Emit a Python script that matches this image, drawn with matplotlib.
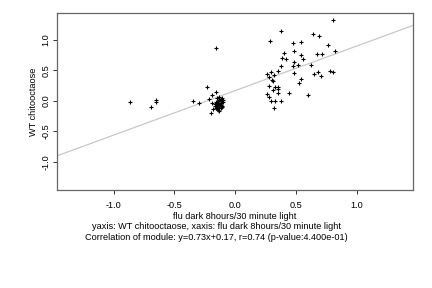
import matplotlib

matplotlib.use("Agg")
import matplotlib.pyplot as plt

# module genes: x = flu dark 8hours/30 minute light, y = WT chitooctaose
x_vals = [
    # upper-right group
    0.80, 0.375, 0.285, 0.64, 0.69, 0.47, 0.54, 0.76, 0.82, 0.40,
    0.48, 0.54, 0.67, 0.71, 0.385, 0.42, 0.56, 0.48, 0.47, 0.515,
    0.375, 0.62, 0.35, 0.29, 0.26, 0.32, 0.48, 0.68, 0.65, 0.70,
    0.78, 0.80, 0.28, 0.30, 0.31, 0.54, 0.52, 0.28, 0.33, 0.35,
    0.31, 0.35, 0.26, 0.35, 0.44, 0.28, 0.60, 0.29, 0.33, 0.375,
    0.32,
    # left outliers
    -0.865, -0.69, -0.655, -0.655, -0.35, -0.30, -0.23, -0.16,
    # dense group near zero
    -0.16, -0.19, -0.215, -0.20, -0.18, -0.14, -0.17, -0.15, -0.13,
    -0.12, -0.11, -0.14, -0.13, -0.12, -0.11, -0.15, -0.14, -0.13,
    -0.12, -0.11, -0.10, -0.16, -0.15, -0.13, -0.12, -0.11, -0.14,
    -0.12, -0.11, -0.17, -0.19, -0.16, -0.13, -0.12, -0.15, -0.10,
]
y_vals = [
    1.33, 1.15, 0.98, 1.10, 1.07, 0.94, 0.97, 0.92, 0.82, 0.79,
    0.82, 0.75, 0.77, 0.77, 0.70, 0.68, 0.68, 0.64, 0.57, 0.58,
    0.57, 0.585, 0.49, 0.475, 0.44, 0.43, 0.46, 0.475, 0.44, 0.40,
    0.49, 0.475, 0.39, 0.34, 0.32, 0.355, 0.30, 0.245, 0.22, 0.22,
    0.18, 0.19, 0.115, 0.125, 0.13, 0.06, 0.09, 0.0, 0.0, 0.0,
    -0.115,
    -0.02, -0.10, 0.02, -0.01, 0.0, -0.04, 0.23, 0.86,
    0.15, 0.10, 0.03, -0.19, -0.14, -0.15, -0.05, 0.05, 0.02,
    0.00, -0.02, -0.03, -0.05, -0.06, -0.08, -0.07, -0.10, -0.11,
    -0.12, 0.04, -0.01, -0.02, -0.04, 0.06, 0.03, 0.01, 0.00,
    -0.09, -0.10, -0.08, -0.03, -0.12, -0.17, -0.04, -0.13, 0.02,
]

slope = 0.73
intercept = 0.17
x_ticks = [-1.0, -0.5, 0.0, 0.5, 1.0]
y_ticks = [-1.0, -0.5, 0.0, 0.5, 1.0]

plt.rcParams["font.family"] = ["Liberation Sans", "DejaVu Sans"]

fig = plt.figure(figsize=(4.32, 2.88), dpi=100)
ax = fig.add_axes([0.132, 0.340, 0.824, 0.615])

ax.axline((0, intercept), slope=slope, color="#c8c8c8", linewidth=0.9, zorder=1)
ax.scatter(x_vals, y_vals, marker="+", s=10, color="black", linewidths=0.8, zorder=2)

ax.set_xlim(-1.465, 1.46)
ax.set_ylim(-1.46, 1.44)
ax.set_xticks(x_ticks, labels=[f"{t:.1f}" for t in x_ticks])
ax.set_yticks(y_ticks, labels=[f"{t:.1f}" for t in y_ticks])
ax.tick_params(labelsize=6.6, length=3, width=0.7, color="#333333")
ax.tick_params(axis="x", pad=5)
ax.tick_params(axis="y", pad=1.5)
for lbl in ax.get_yticklabels():
    lbl.set_rotation(90)
    lbl.set_va("center")
for spine in ax.spines.values():
    spine.set_color("#666666")
    spine.set_linewidth(0.9)

ax.set_xlabel("flu dark 8hours/30 minute light", fontsize=6.6, labelpad=1)
ax.set_ylabel("WT chitooctaose", fontsize=6.6, labelpad=3)

fig.text(0.5, 0.215, "yaxis: WT chitooctaose, xaxis: flu dark 8hours/30 minute light",
         ha="center", va="center", fontsize=6.6)
fig.text(0.5, 0.177, "Correlation of module: y=0.73x+0.17, r=0.74 (p-value:4.400e-01)",
         ha="center", va="center", fontsize=6.6)

fig.savefig("out.png", dpi=100)
